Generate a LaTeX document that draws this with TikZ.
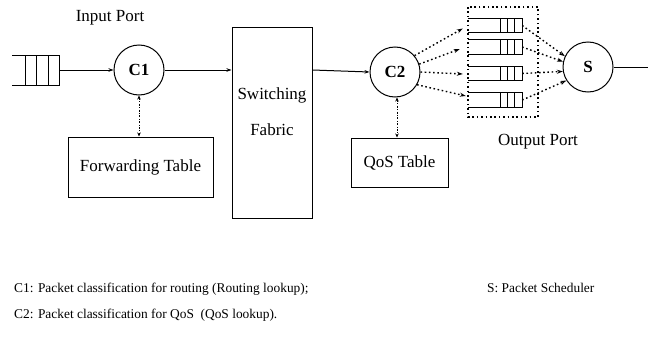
\documentclass[tikz,border=0pt]{standalone}
\usepackage{fontspec}
\setmainfont{Liberation Serif}
\usetikzlibrary{arrows.meta}
\begin{document}
\begin{tikzpicture}[x=1pt,y=-1pt,
  every node/.style={font=\fontsize{17}{20}\selectfont},
  line/.style={line width=1pt},
  flow/.style={line width=1pt,-{Stealth[length=5pt,width=3.5pt]}},
  lookup/.style={line width=0.9pt,dash pattern=on 2pt off 1.5pt on 0.8pt off 1.5pt,{Stealth[length=4pt,width=3.5pt]}-{Stealth[length=4pt,width=3.5pt]}},
  fan/.style={line width=1.4pt,dash pattern=on 1.6pt off 2.6pt,-{Stealth[length=6pt,width=4pt]}},
  classifier/.style={circle,draw,line width=1pt,minimum size=50pt,inner sep=0pt,font=\fontsize{17}{20}\selectfont\bfseries},
  tablebox/.style={draw,line width=1pt,inner sep=0pt},
  note/.style={anchor=base west,inner sep=0pt,font=\fontsize{13.4}{16}\selectfont}]
\useasboundingbox (0,0) rectangle (648,340);

% input queue (open on the left)
\draw[line] (12,55) -- (60,55) (12,85) -- (60,85);
\foreach \x in {25,36,48,59} \draw[line] (\x,55) -- (\x,85);
\coordinate (qin) at (60,70);

\node[classifier] (C1) at (139,70) {C1};
\node[tablebox,minimum width=80pt,minimum height=191pt] (SF) at (272,122.5) {};
\node at (272,95) {Switching};
\node at (272,130) {Fabric};
\node[classifier] (C2) at (395,72) {C2};
\node[classifier] (S) at (588,67) {S};

\node[tablebox,minimum width=145pt,minimum height=60pt] (FT) at (140.5,167) {Forwarding Table};
\node[tablebox,minimum width=97pt,minimum height=49pt] (QT) at (399.5,162.5) {QoS Table};

\node at (110,18) {Input Port};
\node at (538,142) {Output Port};

% output port: four queues inside a dotted frame
\draw[line width=1.3pt,dash pattern=on 1.6pt off 2.8pt] (468,7) rectangle (538,117);
\foreach \i/\yc in {1/25.5,2/47,3/73.5,4/100} {
  \node[inner sep=0pt,minimum width=54pt,minimum height=14pt] (q\i) at (495,\yc) {};
  \draw[line width=1.3pt] (q\i.north west) -- (q\i.north east) -- (q\i.south east) -- (q\i.south west);
  \foreach \x in {500,507,514} \draw[line width=0.9pt] (\x,\yc-7) -- (\x,\yc+7);
}

% main data path
\draw[flow] (qin) -- (C1);
\draw[flow] (C1.east) -- (SF.west |- C1.east);
\draw[flow] (SF.east |- C1.east) -- (C2.west);
\coordinate (out) at (648,67);
\draw[line] (S) -- (out);

% table lookups
\draw[lookup] (C1.south) -- (FT.north -| C1.south);
\draw[lookup] (C2.south) ++(2,0) -- (QT.north -| 397,0);

% classifier to queues, queues to scheduler
\draw[fan] (C2.40) -- ([shift={(-5,3)}]q1.west);
\draw[fan] (C2.18) -- ([shift={(-8,2)}]q2.west);
\draw[fan] (C2.east) -- ([shift={(-5,0.5)}]q3.west);
\draw[fan] (C2.-30) -- ([shift={(-2,-4)}]q4.west);
\draw[fan] (q1.east) -- (S.155);
\draw[fan] (q2.east) -- (S.168);
\draw[fan] (q3.east) -- (S.190);
\draw[fan] (q4.east) -- (S.212);

% legend
\node[note] at (14,292) {C1: Packet classification for routing (Routing lookup);};
\node[note] at (487,292) {S: Packet Scheduler};
\node[note] at (14,318) {C2: Packet classification for QoS\ \ (QoS lookup).};
\end{tikzpicture}
\end{document}
